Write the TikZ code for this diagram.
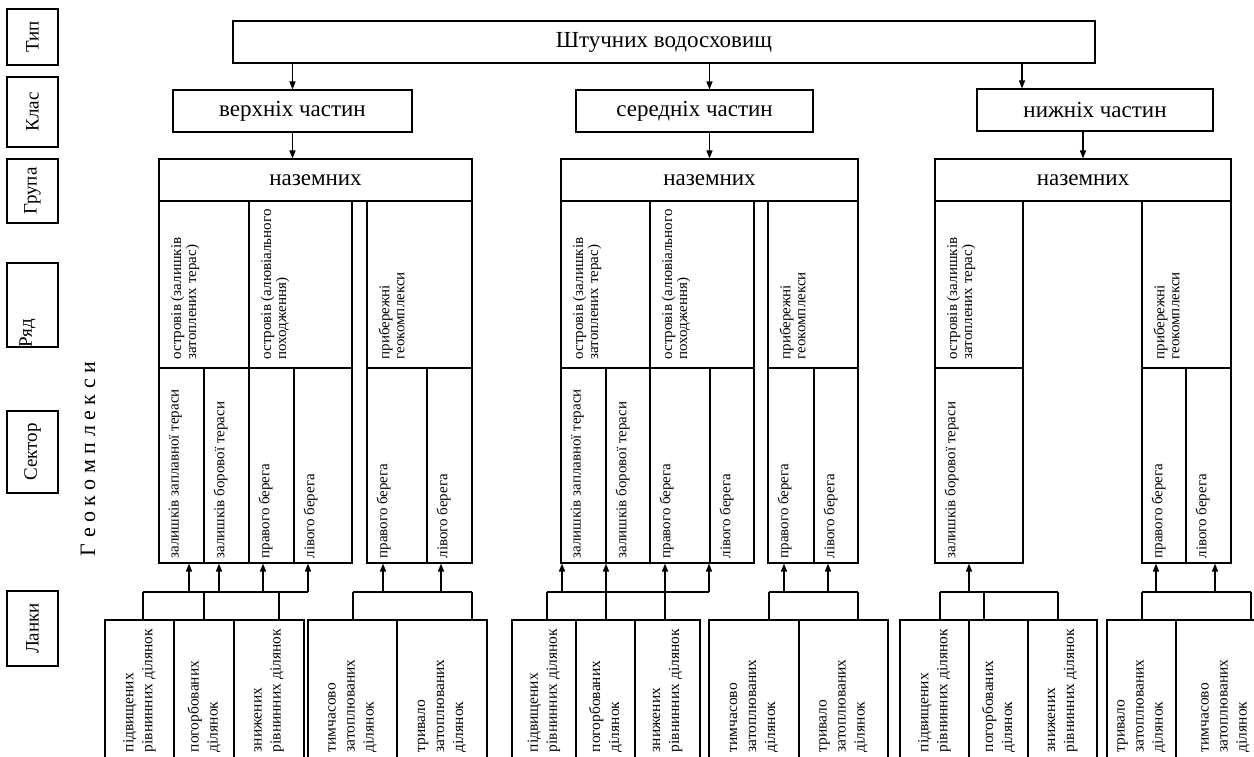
\documentclass[tikz,border=0pt]{standalone}
\usepackage{fontspec}
\setmainfont{Liberation Serif}
\usetikzlibrary{arrows.meta, positioning}

\begin{document}
\begin{tikzpicture}[
    x=1pt, y=-1pt,
    every node/.style={font=\fontsize{23}{27}\selectfont},
    box/.style={draw, line width=1.1pt, inner sep=0pt},
    side/.style={box, minimum width=51pt},
    stext/.style={rotate=90, inner sep=0pt, font=\fontsize{19}{22}\selectfont},
    vtxt/.style={rotate=90, inner sep=0pt, align=left, anchor=north west, font=\fontsize{15}{15}\selectfont},
    ltxt/.style={rotate=90, inner sep=0pt, align=left, anchor=west, font=\fontsize{15.5}{19}\selectfont},
    arrow/.style={-{Triangle[length=8pt,width=6pt]}, line width=1.3pt},
    link/.style={line width=1.3pt},
]
\useasboundingbox (0,0) rectangle (1254,756);
\clip (0,0) rectangle (1254,756);

% level names
\node[side, minimum height=56pt, label={[stext]center:Тип}] (tTyp) at (32.5,37) {};
\node[side, minimum height=70pt, label={[stext]center:Клас}] (tKlas) at (32.5,112) {};
\node[side, minimum height=64pt, label={[stext]center:Група}] (tGrupa) at (32.5,191) {};
\node[side, minimum height=84pt, label={[stext, anchor=west, yshift=5pt]south:Ряд}] (tRyad) at (32.5,305) {};
\node[side, minimum height=82pt, label={[stext]center:Сектор}] (tSektor) at (32.5,452) {};
\node[side, minimum height=75pt, label={[stext]center:Ланки}] (tLanky) at (32.5,628.5) {};
\node[rotate=90, inner sep=0pt, font=\fontsize{22}{22}\selectfont] (geo) at (88,459) {Г е о к о м п л е к с и};

% type, classes, groups
\node[box, minimum width=862pt, minimum height=42pt] (typ) at (664,42) {Штучних водосховищ};
\node[box, minimum width=239pt, minimum height=42pt] (klasV) at (292.5,111) {верхніх частин};
\node[box, minimum width=237pt, minimum height=42pt] (klasS) at (694.5,111) {середніх частин};
\node[box, minimum width=236pt, minimum height=42pt] (klasN) at (1095,110) {нижніх частин};
\node[box, minimum width=313pt, minimum height=42pt] (nazV) at (315.5,180) {наземних};
\node[box, minimum width=297pt, minimum height=42pt] (nazS) at (709.5,180) {наземних};
\node[box, minimum width=296pt, minimum height=42pt] (nazN) at (1083,180) {наземних};

\coordinate (xN) at (1022,0);
\draw[arrow] (typ.south -| klasV) -- (klasV);
\draw[arrow] (typ.south -| nazS) -- (klasS.north -| nazS);
\draw[arrow] (typ.south -| xN) -- (klasN.north -| xN);
\draw[arrow] (klasV) -- (klasV |- nazV.north);
\draw[arrow] (klasS.south -| nazS) -- (nazS);
\draw[arrow] (klasN.south -| nazN) -- (nazN);

% rows and sectors, upper parts
\node[box, minimum width=90pt, minimum height=167pt] (r11) at (204,284.5) {};
\node[box, minimum width=103pt, minimum height=167pt] (r12) at (300.5,284.5) {};
\node[box, minimum width=105pt, minimum height=167pt] (r13) at (419.5,284.5) {};
\node[vtxt] (r11t) at ([xshift=12pt,yshift=9pt]r11.south west) {островів (залишків\\затоплених терас)};
\node[vtxt] (r12t) at ([xshift=12pt,yshift=9pt]r12.south west) {островів (алювіального\\походження)};
\node[vtxt] (r13t) at ([xshift=12pt,yshift=9pt]r13.south west) {прибережні\\геокомплекси};
\node[box, minimum width=45pt, minimum height=195pt] (s11) at (181.5,465.5) {};
\node[box, minimum width=45pt, minimum height=195pt] (s12) at (226.5,465.5) {};
\node[box, minimum width=45pt, minimum height=195pt] (s13) at (271.5,465.5) {};
\node[box, minimum width=58pt, minimum height=195pt] (s14) at (323,465.5) {};
\node[box, minimum width=60pt, minimum height=195pt] (s15) at (397,465.5) {};
\node[box, minimum width=45pt, minimum height=195pt] (s16) at (449.5,465.5) {};
\node[vtxt] (s11t) at ([xshift=10pt,yshift=5pt]s11.south west) {залишків заплавної тераси};
\node[vtxt] (s12t) at ([xshift=10pt,yshift=5pt]s12.south west) {залишків борової тераси};
\node[vtxt] (s13t) at ([xshift=10pt,yshift=5pt]s13.south west) {правого берега};
\node[vtxt] (s14t) at ([xshift=10pt,yshift=5pt]s14.south west) {лівого берега};
\node[vtxt] (s15t) at ([xshift=10pt,yshift=5pt]s15.south west) {правого берега};
\node[vtxt] (s16t) at ([xshift=10pt,yshift=5pt]s16.south west) {лівого берега};

% rows and sectors, middle parts
\node[box, minimum width=89pt, minimum height=167pt] (r21) at (605.5,284.5) {};
\node[box, minimum width=104pt, minimum height=167pt] (r22) at (702,284.5) {};
\node[box, minimum width=90pt, minimum height=167pt] (r23) at (813,284.5) {};
\node[vtxt] (r21t) at ([xshift=12pt,yshift=9pt]r21.south west) {островів (залишків\\затоплених терас)};
\node[vtxt] (r22t) at ([xshift=12pt,yshift=9pt]r22.south west) {островів (алювіального\\походження)};
\node[vtxt] (r23t) at ([xshift=12pt,yshift=9pt]r23.south west) {прибережні\\геокомплекси};
\node[box, minimum width=45pt, minimum height=195pt] (s21) at (583.5,465.5) {};
\node[box, minimum width=44pt, minimum height=195pt] (s22) at (628,465.5) {};
\node[box, minimum width=60pt, minimum height=195pt] (s23) at (680,465.5) {};
\node[box, minimum width=44pt, minimum height=195pt] (s24) at (732,465.5) {};
\node[box, minimum width=46pt, minimum height=195pt] (s25) at (791,465.5) {};
\node[box, minimum width=44pt, minimum height=195pt] (s26) at (836,465.5) {};
\node[vtxt] (s21t) at ([xshift=10pt,yshift=5pt]s21.south west) {залишків заплавної тераси};
\node[vtxt] (s22t) at ([xshift=10pt,yshift=5pt]s22.south west) {залишків борової тераси};
\node[vtxt] (s23t) at ([xshift=10pt,yshift=5pt]s23.south west) {правого берега};
\node[vtxt] (s24t) at ([xshift=10pt,yshift=5pt]s24.south west) {лівого берега};
\node[vtxt] (s25t) at ([xshift=10pt,yshift=5pt]s25.south west) {правого берега};
\node[vtxt] (s26t) at ([xshift=10pt,yshift=5pt]s26.south west) {лівого берега};

% rows and sectors, lower parts
\node[box, minimum width=88pt, minimum height=167pt] (r31) at (979,284.5) {};
\node[box, minimum width=89pt, minimum height=167pt] (r32) at (1186.5,284.5) {};
\node[vtxt] (r31t) at ([xshift=12pt,yshift=9pt]r31.south west) {островів (залишків\\затоплених терас)};
\node[vtxt] (r32t) at ([xshift=12pt,yshift=9pt]r32.south west) {прибережні\\геокомплекси};
\node[box, minimum width=88pt, minimum height=195pt] (s31) at (979,465.5) {};
\node[box, minimum width=44pt, minimum height=195pt] (s32) at (1164,465.5) {};
\node[box, minimum width=45pt, minimum height=195pt] (s33) at (1208.5,465.5) {};
\node[vtxt] (s31t) at ([xshift=10pt,yshift=5pt]s31.south west) {залишків борової тераси};
\node[vtxt] (s32t) at ([xshift=10pt,yshift=5pt]s32.south west) {правого берега};
\node[vtxt] (s33t) at ([xshift=10pt,yshift=5pt]s33.south west) {лівого берега};

% links
\node[box, minimum width=69pt, minimum height=150pt] (l11) at (139.5,695) {};
\node[box, minimum width=60pt, minimum height=150pt] (l12) at (204,695) {};
\node[box, minimum width=70pt, minimum height=150pt] (l13) at (269,695) {};
\node[box, minimum width=89pt, minimum height=150pt] (l14) at (352.5,695) {};
\node[box, minimum width=90pt, minimum height=150pt] (l15) at (442,695) {};
\node[box, minimum width=64pt, minimum height=150pt] (l21) at (544,695) {};
\node[box, minimum width=59pt, minimum height=150pt] (l22) at (605.5,695) {};
\node[box, minimum width=65pt, minimum height=150pt] (l23) at (667.5,695) {};
\node[box, minimum width=90pt, minimum height=150pt] (l24) at (754,695) {};
\node[box, minimum width=89pt, minimum height=150pt] (l25) at (843.5,695) {};
\node[box, minimum width=69pt, minimum height=150pt] (l31) at (934.5,695) {};
\node[box, minimum width=59pt, minimum height=150pt] (l32) at (998.5,695) {};
\node[box, minimum width=69pt, minimum height=150pt] (l33) at (1062.5,695) {};
\node[box, minimum width=69pt, minimum height=150pt] (l34) at (1141.5,695) {};
\node[box, minimum width=99pt, minimum height=150pt] (l35) at (1225.5,695) {};

\node[ltxt] (l11t) at ([yshift=-133pt]l11.north) {підвищених\\рівнинних ділянок};
\node[ltxt] (l12t) at ([yshift=-133pt]l12.north) {погорбованих\\ділянок};
\node[ltxt] (l13t) at ([yshift=-133pt]l13.north) {знижених\\рівнинних ділянок};
\node[ltxt] (l14t) at ([yshift=-133pt]l14.north) {тимчасово\\затоплюваних\\ділянок};
\node[ltxt] (l15t) at ([yshift=-133pt]l15.north) {тривало\\затоплюваних\\ділянок};
\node[ltxt] (l21t) at ([yshift=-133pt]l21.north) {підвищених\\рівнинних ділянок};
\node[ltxt] (l22t) at ([yshift=-133pt]l22.north) {погорбованих\\ділянок};
\node[ltxt] (l23t) at ([yshift=-133pt]l23.north) {знижених\\рівнинних ділянок};
\node[ltxt] (l24t) at ([yshift=-133pt]l24.north) {тимчасово\\затоплюваних\\ділянок};
\node[ltxt] (l25t) at ([yshift=-133pt]l25.north) {тривало\\затоплюваних\\ділянок};
\node[ltxt] (l31t) at ([yshift=-133pt]l31.north) {підвищених\\рівнинних ділянок};
\node[ltxt] (l32t) at ([yshift=-133pt]l32.north) {погорбованих\\ділянок};
\node[ltxt] (l33t) at ([yshift=-133pt]l33.north) {знижених\\рівнинних ділянок};
\node[ltxt] (l34t) at ([yshift=-133pt]l34.north) {тривало\\затоплюваних\\ділянок};
\node[ltxt] (l35t) at ([yshift=-133pt]l35.north) {тимчасово\\затоплюваних\\ділянок};

% buses from links up to sectors
\coordinate (bV1) at (143,592);  \coordinate (bV2) at (308,592);
\coordinate (bV3) at (353,592);  \coordinate (bV4) at (472,592);
\coordinate (bS1) at (547,592);  \coordinate (bS2) at (709,592);
\coordinate (bS3) at (769,592);  \coordinate (bS4) at (858,592);
\coordinate (bN1) at (940,592);  \coordinate (bN2) at (1058,592);
\coordinate (bN3) at (1142,592); \coordinate (bN4) at (1251,592);
\draw[link] (bV1) -- (bV2);
\draw[link] (bV3) -- (bV4);
\draw[link] (bS1) -- (bS2);
\draw[link] (bS3) -- (bS4);
\draw[link] (bN1) -- (bN2);
\draw[link] (bN3) -- (bN4);

\foreach \x/\n in {143/l11, 204/l12, 279/l13, 353/l14, 472/l15,
                   547/l21, 606/l22, 665/l23, 769/l24, 858/l25,
                   940/l31, 984/l32, 1058/l33, 1142/l34, 1251/l35} {
  \coordinate (p) at (\x,592);
  \draw[link] (p) -- (p |- \n.north);
}
\foreach \x/\n in {189/s11, 219/s12, 263/s13, 308/s14, 383/s15, 441/s16,
                   562/s21, 606/s22, 665/s23, 709/s24, 784/s25, 828/s26,
                   969/s31, 1156/s32, 1215/s33} {
  \coordinate (p) at (\x,592);
  \draw[arrow] (p) -- (p |- \n.south);
}
\end{tikzpicture}
\end{document}
